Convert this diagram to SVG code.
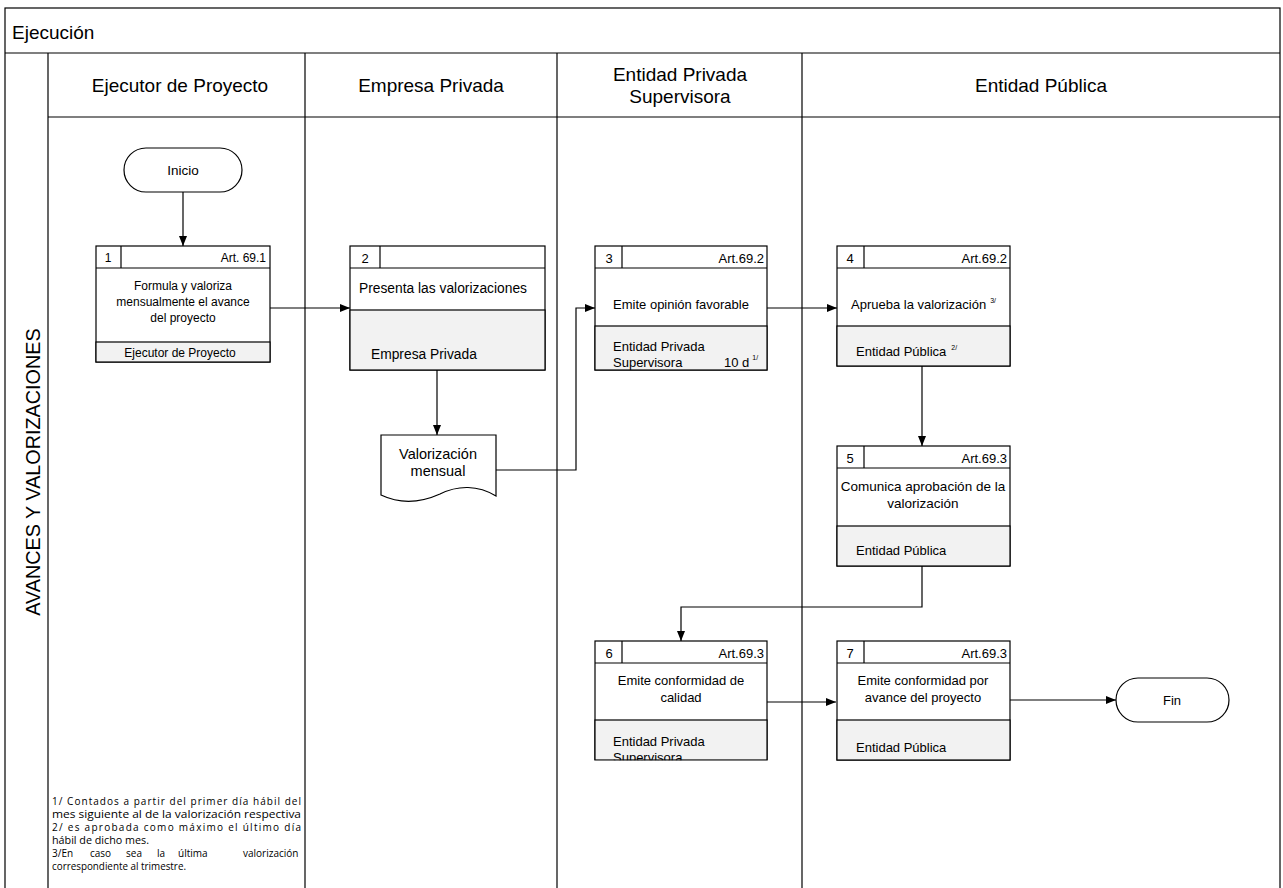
<svg xmlns="http://www.w3.org/2000/svg" width="1283" height="888" viewBox="0 0 1283 888">
<defs>
<marker id="ah" markerWidth="10" markerHeight="8" refX="10" refY="4" orient="auto" markerUnits="userSpaceOnUse">
<path d="M0,0 L10,4 L0,8 Z" fill="#000"/>
</marker>
<style>
.f{font-family:"Liberation Sans",Arial,sans-serif;fill:#000}
.t{font-size:13px}
.s{font-size:12px}
.h{font-size:19px}
.sup{font-size:7px}
.box{fill:#fff;stroke:#000;stroke-width:1.2}
.gray{fill:#f2f2f2;stroke:#000;stroke-width:1.2}
.ln{fill:none;stroke:#000;stroke-width:1.2}
.c{fill:none;stroke:#000;stroke-width:1.2;marker-end:url(#ah)}
.fn{font-family:"Open Sans","Liberation Sans",sans-serif;font-size:10px;fill:#000}
</style>
</defs>
<rect width="1283" height="888" fill="#fff"/>
<g id="frame">
<rect x="5" y="8" width="1275" height="885" class="ln"/>
<line x1="5" y1="53" x2="1280" y2="53" class="ln"/>
<line x1="48" y1="53" x2="48" y2="888" class="ln"/>
<line x1="48" y1="117" x2="1280" y2="117" class="ln"/>
<line x1="305" y1="53" x2="305" y2="888" class="ln"/>
<line x1="557" y1="53" x2="557" y2="888" class="ln"/>
<line x1="802" y1="53" x2="802" y2="888" class="ln"/>
<text x="12" y="39" class="f h">Ejecución</text>
<text x="180" y="92" class="f h" text-anchor="middle">Ejecutor de Proyecto</text>
<text x="431" y="92" class="f h" text-anchor="middle">Empresa Privada</text>
<text x="680" y="81" class="f h" text-anchor="middle">Entidad Privada</text>
<text x="680" y="103" class="f h" text-anchor="middle">Supervisora</text>
<text x="1041" y="92" class="f h" text-anchor="middle">Entidad Pública</text>
<text transform="translate(40,472) rotate(-90)" class="f" style="font-size:19.8px" text-anchor="middle">AVANCES Y VALORIZACIONES</text>
</g>
<g id="connectors">
<line x1="183" y1="192" x2="183" y2="246" class="c"/>
<line x1="270" y1="308" x2="350" y2="308" class="c"/>
<line x1="437" y1="370" x2="437" y2="435" class="c"/>
<polyline points="496,470 576,470 576,308 595,308" class="c"/>
<line x1="767" y1="308" x2="837" y2="308" class="c"/>
<line x1="922" y1="366" x2="922" y2="446" class="c"/>
<polyline points="922,566 922,607 681,607 681,641" class="c"/>
<line x1="767" y1="702" x2="836" y2="702" class="c"/>
<line x1="1010" y1="700" x2="1116" y2="700" class="c"/>
</g>
<g id="inicio">
<rect x="124" y="148" width="118" height="44" rx="22" class="box"/>
<text x="183" y="175" class="f" style="font-size:13.5px" text-anchor="middle">Inicio</text>
</g>
<g id="n1">
<rect x="96" y="246" width="174" height="116" class="box"/>
<rect x="96" y="342" width="174" height="20" class="gray"/>
<line x1="96" y1="268" x2="270" y2="268" class="ln"/>
<line x1="121" y1="246" x2="121" y2="268" class="ln"/>
<text x="108" y="262" class="f s" text-anchor="middle">1</text>
<text x="266" y="262" class="f s" text-anchor="end">Art. 69.1</text>
<text x="183" y="290" class="f s" text-anchor="middle">Formula y valoriza</text>
<text x="183" y="306" class="f s" text-anchor="middle">mensualmente el avance</text>
<text x="183" y="322" class="f s" text-anchor="middle">del proyecto</text>
<text x="180" y="357" class="f s" text-anchor="middle">Ejecutor de Proyecto</text>
</g>
<g id="n2">
<rect x="350" y="246" width="195" height="124" class="box"/>
<rect x="350" y="310" width="195" height="60" class="gray"/>
<line x1="350" y1="268" x2="545" y2="268" class="ln"/>
<line x1="380" y1="246" x2="380" y2="268" class="ln"/>
<text x="365" y="263" class="f t" text-anchor="middle">2</text>
<text x="359" y="293" class="f" style="font-size:13.8px">Presenta las valorizaciones</text>
<text x="371" y="359" class="f" style="font-size:13.8px">Empresa Privada</text>
</g>
<g id="doc">
<path d="M381,435 H496 V496 C478,485 458,485 440,494 C420,503 400,504 381,495 Z" class="box"/>
<text x="438" y="459" class="f" text-anchor="middle" style="font-size:14.5px">Valorización</text>
<text x="438" y="476" class="f" text-anchor="middle" style="font-size:14.5px">mensual</text>
</g>
<g id="n3">
<rect x="595" y="246" width="172" height="124" class="box"/>
<rect x="595" y="326" width="172" height="44" class="gray"/>
<line x1="595" y1="268" x2="767" y2="268" class="ln"/>
<line x1="622" y1="246" x2="622" y2="268" class="ln"/>
<text x="609" y="263" class="f t" text-anchor="middle">3</text>
<text x="764" y="263" class="f t" text-anchor="end">Art.69.2</text>
<text x="681" y="309" class="f t" text-anchor="middle">Emite opinión favorable</text>
<text x="613" y="351" class="f t">Entidad Privada</text>
<text x="613" y="367" class="f t">Supervisora</text>
<text x="724" y="367" class="f t">10 d<tspan dx="3" dy="-7" class="sup">1/</tspan></text>
</g>
<g id="n4">
<rect x="837" y="246" width="173" height="120" class="box"/>
<rect x="837" y="326" width="173" height="40" class="gray"/>
<line x1="837" y1="268" x2="1010" y2="268" class="ln"/>
<line x1="864" y1="246" x2="864" y2="268" class="ln"/>
<text x="850" y="263" class="f t" text-anchor="middle">4</text>
<text x="1007" y="263" class="f t" text-anchor="end">Art.69.2</text>
<text x="851" y="309" class="f t">Aprueba la valorización<tspan dx="4" dy="-6" class="sup">3/</tspan></text>
<text x="856" y="356" class="f t">Entidad Pública<tspan dx="5" dy="-6" class="sup">2/</tspan></text>
</g>
<g id="n5">
<rect x="837" y="446" width="173" height="120" class="box"/>
<rect x="837" y="526" width="173" height="40" class="gray"/>
<line x1="837" y1="468" x2="1010" y2="468" class="ln"/>
<line x1="864" y1="446" x2="864" y2="468" class="ln"/>
<text x="850" y="463" class="f t" text-anchor="middle">5</text>
<text x="1007" y="463" class="f t" text-anchor="end">Art.69.3</text>
<text x="923" y="491" class="f" style="font-size:13.5px" text-anchor="middle">Comunica aprobación de la</text>
<text x="923" y="508" class="f" style="font-size:13.5px" text-anchor="middle">valorización</text>
<text x="856" y="555" class="f t">Entidad Pública</text>
</g>
<g id="n6">
<rect x="595" y="641" width="172" height="119" class="box"/>
<rect x="595" y="720" width="172" height="40" class="gray"/>
<line x1="595" y1="663" x2="767" y2="663" class="ln"/>
<line x1="622" y1="641" x2="622" y2="663" class="ln"/>
<text x="609" y="658" class="f t" text-anchor="middle">6</text>
<text x="764" y="658" class="f t" text-anchor="end">Art.69.3</text>
<text x="681" y="685" class="f t" text-anchor="middle">Emite conformidad de</text>
<text x="681" y="702" class="f t" text-anchor="middle">calidad</text>
<text x="613" y="746" class="f t">Entidad Privada</text>
<text x="613" y="762" class="f t">Supervisora</text>
<rect x="594" y="760.6" width="174" height="8" fill="#fff"/>
</g>
<g id="n7">
<rect x="837" y="641" width="173" height="119" class="box"/>
<rect x="837" y="720" width="173" height="40" class="gray"/>
<line x1="837" y1="663" x2="1010" y2="663" class="ln"/>
<line x1="864" y1="641" x2="864" y2="663" class="ln"/>
<text x="850" y="658" class="f t" text-anchor="middle">7</text>
<text x="1007" y="658" class="f t" text-anchor="end">Art.69.3</text>
<text x="923" y="685" class="f t" text-anchor="middle">Emite conformidad por</text>
<text x="923" y="702" class="f t" text-anchor="middle">avance del proyecto</text>
<text x="856" y="752" class="f t">Entidad Pública</text>
</g>
<g id="fin">
<rect x="1116" y="678" width="113" height="44" rx="22" class="box"/>
<text x="1172" y="705" class="f t" text-anchor="middle">Fin</text>
</g>
<g id="footnotes">
<text x="52" y="805" class="fn" textLength="249" lengthAdjust="spacing">1/ Contados a partir del primer día hábil del</text>
<text x="52" y="818" class="fn" textLength="249" lengthAdjust="spacingAndGlyphs">mes siguiente al de la valorización respectiva</text>
<text x="52" y="831" class="fn" textLength="249" lengthAdjust="spacing">2/ es aprobada como máximo el último día</text>
<text x="52" y="844" class="fn" textLength="97" lengthAdjust="spacingAndGlyphs">hábil de dicho mes.</text>
<text y="857" class="fn"><tspan x="52">3/En</tspan><tspan x="90">caso</tspan><tspan x="126">sea</tspan><tspan x="157">la</tspan><tspan x="178">última</tspan><tspan x="243">valorización</tspan></text>
<text x="52" y="870" class="fn" textLength="134" lengthAdjust="spacingAndGlyphs">correspondiente al trimestre.</text>
</g>
</svg>
